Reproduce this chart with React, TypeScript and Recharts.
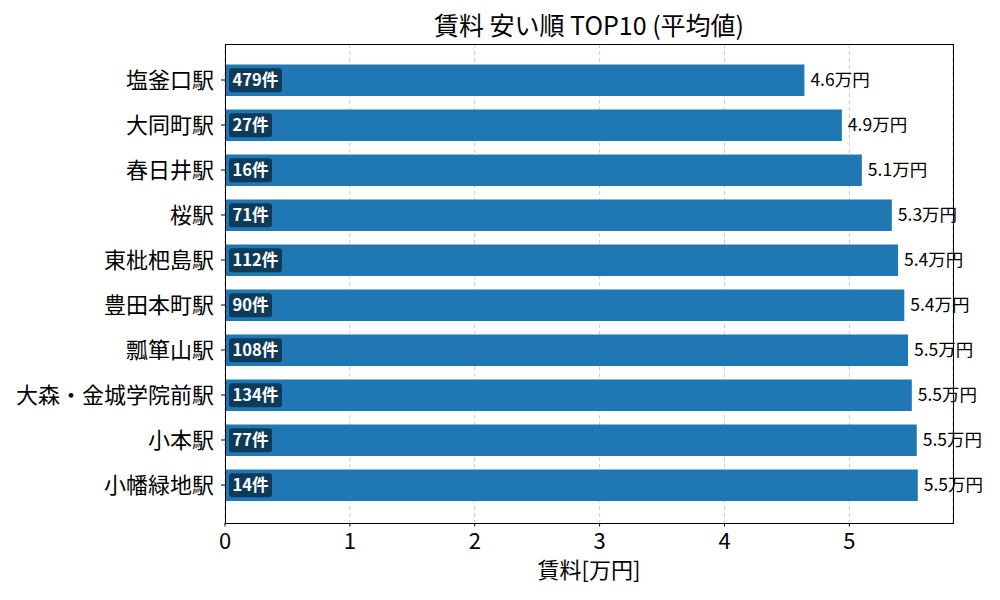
import React from "react";
import { BarChart, Bar, XAxis, YAxis, CartesianGrid, LabelList } from "recharts";

const stations = [
  "塩釜口駅",
  "大同町駅",
  "春日井駅",
  "桜駅",
  "東枇杷島駅",
  "豊田本町駅",
  "瓢箪山駅",
  "大森・金城学院前駅",
  "小本駅",
  "小幡緑地駅",
];
const rents = [4.64, 4.94, 5.1, 5.34, 5.39, 5.44, 5.47, 5.5, 5.54, 5.548];
const counts = [479, 27, 16, 71, 112, 90, 108, 134, 77, 14];
const xTicks = [0, 1, 2, 3, 4, 5];

const data = stations.map((name, i) => ({ name, rent: rents[i], count: counts[i] }));

const FONT = '"Noto Sans CJK JP", "Noto Sans", sans-serif';
const BAR_COLOR = "#1f77b4";

function CountBadge(props: any) {
  const { x, y, height, value } = props;
  const text = `${value}件`;
  const digits = String(value).length;
  const w = 23 + digits * 10;
  const cy = y + height / 2;
  return (
    <g>
      <rect x={x + 4} y={cy - 12} width={w} height={24} rx={3} ry={3} fill="rgba(0,0,0,0.5)" />
      <text
        x={x + 7.5}
        y={cy}
        dy="0.35em"
        fill="#fff"
        fontWeight="bold"
        fontSize={16.5}
        fontFamily={FONT}
      >
        {text}
      </text>
    </g>
  );
}

export default function App() {
  return (
    <div
      style={{
        position: "absolute",
        left: 0,
        top: 0,
        width: 1000,
        height: 600,
        background: "#fff",
        fontFamily: FONT,
      }}
    >
      <div
        style={{
          position: "absolute",
          left: 225,
          width: 728,
          top: 12,
          textAlign: "center",
          fontSize: 25,
          lineHeight: "25px",
          color: "#000",
        }}
      >
        賃料 安い順 TOP10 (平均値)
      </div>
      <BarChart
        width={1000}
        height={600}
        data={data}
        layout="vertical"
        margin={{ top: 44, right: 47, bottom: 0, left: 0 }}
      >
        <CartesianGrid horizontal={false} stroke="#cccccc" strokeDasharray="4 3" />
        <XAxis
          type="number"
          domain={[0, 5.83]}
          ticks={xTicks}
          allowDataOverflow
          height={77}
          axisLine={false}
          tickLine={{ stroke: "#000" }}
          tickSize={3.5}
          tickMargin={7}
          tick={{ fill: "#000", fontSize: 22 }}
          label={{ value: "賃料[万円]", position: "insideBottom", offset: 22, fill: "#000", fontSize: 22 }}
        />
        <YAxis
          type="category"
          dataKey="name"
          width={225}
          axisLine={false}
          tickLine={{ stroke: "#000" }}
          tickSize={4}
          tickMargin={7}
          tick={{ fill: "#000", fontSize: 22 }}
          padding={{ top: 13.5, bottom: 15.5 }}
          interval={0}
        />
        <Bar dataKey="rent" fill={BAR_COLOR} barSize={31.5} isAnimationActive={false}>
          <LabelList
            dataKey="rent"
            position="right"
            offset={6}
            fill="#000"
            fontSize={17.5}
            formatter={(v: any) => `${Number(v).toFixed(1)}万円`}
          />
          <LabelList dataKey="count" content={CountBadge} />
        </Bar>
      </BarChart>
      <div
        style={{
          position: "absolute",
          left: 225,
          top: 44,
          width: 729,
          height: 480,
          boxSizing: "border-box",
          border: "1px solid #000",
          pointerEvents: "none",
        }}
      />
    </div>
  );
}
